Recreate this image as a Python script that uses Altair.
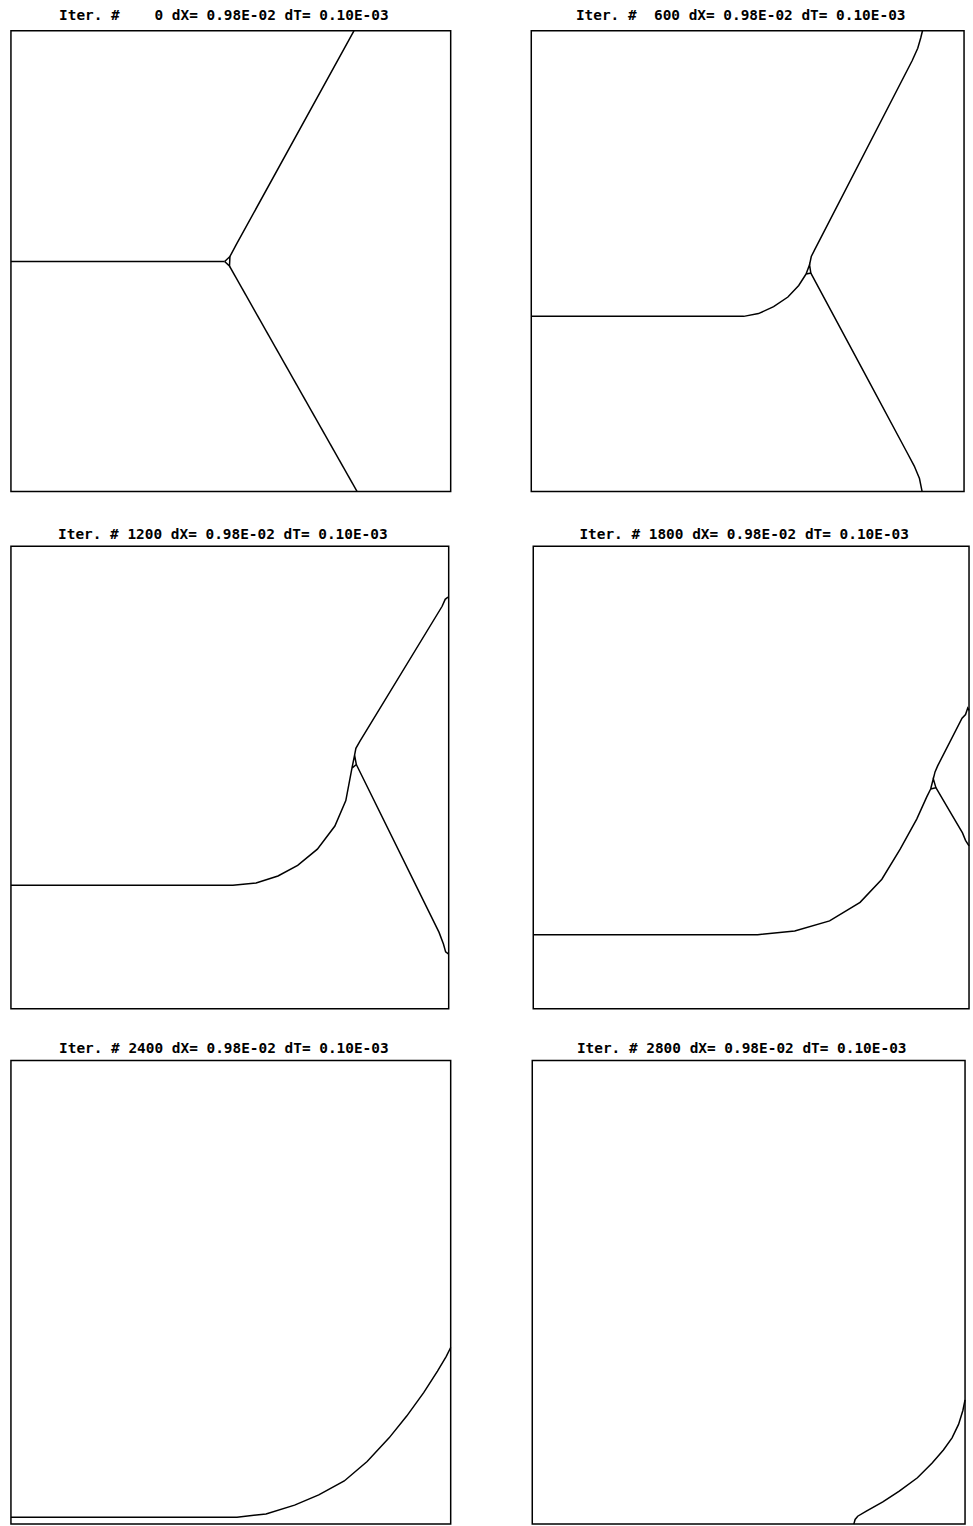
import altair as alt
import pandas as pd

# Snapshot labels
ITERATIONS = [0, 600, 1200, 1800, 2400, 2800]
DX_LABEL = "0.98E-02"
DT_LABEL = "0.10E-03"

# Grain-boundary traces, unit-box coordinates (x to the right, y upward)
# Iter 0: symmetric triple junction
it0_left_x = [0.0, 0.486]
it0_left_y = [0.499, 0.499]
it0_node_x = [0.486, 0.498, 0.497, 0.486]
it0_node_y = [0.499, 0.510, 0.489, 0.499]
it0_upper_x = [0.498, 0.512, 0.780]
it0_upper_y = [0.510, 0.535, 1.0]
it0_lower_x = [0.497, 0.787]
it0_lower_y = [0.489, 0.0]

# Iter 600
it600_left_x = [0.0, 0.491, 0.525, 0.560, 0.593, 0.618, 0.635]
it600_left_y = [0.380, 0.380, 0.386, 0.401, 0.422, 0.447, 0.472]
it600_node_x = [0.635, 0.643, 0.646, 0.635]
it600_node_y = [0.472, 0.492, 0.474, 0.472]
it600_upper_x = [0.643, 0.647, 0.655, 0.880, 0.893, 0.900, 0.904]
it600_upper_y = [0.492, 0.510, 0.525, 0.935, 0.962, 0.985, 1.0]
it600_lower_x = [0.646, 0.775, 0.868, 0.885, 0.897, 0.903]
it600_lower_y = [0.474, 0.248, 0.085, 0.055, 0.028, 0.0]

# Iter 1200
it1200_left_x = [0.0, 0.507, 0.560, 0.610, 0.655, 0.700, 0.740, 0.765, 0.779]
it1200_left_y = [0.267, 0.267, 0.272, 0.287, 0.310, 0.345, 0.395, 0.450, 0.520]
it1200_node_x = [0.779, 0.785, 0.789, 0.779]
it1200_node_y = [0.520, 0.548, 0.528, 0.520]
it1200_upper_x = [0.785, 0.788, 0.797, 0.985, 0.992, 0.996, 1.0]
it1200_upper_y = [0.548, 0.563, 0.578, 0.870, 0.885, 0.888, 0.890]
it1200_lower_x = [0.789, 0.978, 0.988, 0.993, 1.0]
it1200_lower_y = [0.528, 0.165, 0.140, 0.123, 0.118]

# Iter 1800
it1800_left_x = [0.0, 0.515, 0.600, 0.680, 0.750, 0.800, 0.842, 0.880, 0.903, 0.912]
it1800_left_y = [0.160, 0.160, 0.168, 0.190, 0.230, 0.280, 0.345, 0.410, 0.458, 0.475]
it1800_node_x = [0.912, 0.918, 0.924, 0.912]
it1800_node_y = [0.475, 0.497, 0.478, 0.475]
it1800_upper_x = [0.918, 0.922, 0.928, 0.984, 0.992, 0.997, 1.0]
it1800_upper_y = [0.497, 0.512, 0.525, 0.628, 0.636, 0.650, 0.645]
it1800_lower_x = [0.924, 0.960, 0.985, 0.992, 1.0]
it1800_lower_y = [0.478, 0.420, 0.380, 0.364, 0.352]

# Iter 2400
it2400_left_x = [0.0, 0.514, 0.580, 0.645, 0.700, 0.758, 0.810, 0.860, 0.900, 0.939, 0.970, 0.990, 1.0]
it2400_left_y = [0.015, 0.015, 0.022, 0.041, 0.063, 0.093, 0.135, 0.186, 0.233, 0.284, 0.330, 0.362, 0.381]

# Iter 2800
it2800_left_x = [0.743, 0.746, 0.752, 0.772, 0.810, 0.848, 0.890, 0.924, 0.950, 0.970, 0.985, 0.995, 1.0]
it2800_left_y = [0.0, 0.010, 0.017, 0.028, 0.048, 0.071, 0.100, 0.132, 0.160, 0.186, 0.215, 0.245, 0.268]

SNAPSHOTS = [
    [(it0_left_x, it0_left_y), (it0_node_x, it0_node_y),
     (it0_upper_x, it0_upper_y), (it0_lower_x, it0_lower_y)],
    [(it600_left_x, it600_left_y), (it600_node_x, it600_node_y),
     (it600_upper_x, it600_upper_y), (it600_lower_x, it600_lower_y)],
    [(it1200_left_x, it1200_left_y), (it1200_node_x, it1200_node_y),
     (it1200_upper_x, it1200_upper_y), (it1200_lower_x, it1200_lower_y)],
    [(it1800_left_x, it1800_left_y), (it1800_node_x, it1800_node_y),
     (it1800_upper_x, it1800_upper_y), (it1800_lower_x, it1800_lower_y)],
    [(it2400_left_x, it2400_left_y)],
    [(it2800_left_x, it2800_left_y)],
]

# Panel sizes (plot area in px)
PANEL_SIZES = [(442, 463), (435, 463), (440, 465), (438, 465), (442, 466), (435, 466)]


def snapshot_frame(segments):
    rows = []
    for s, (xs, ys) in enumerate(segments):
        for i, (x, y) in enumerate(zip(xs, ys)):
            rows.append({"seg": s, "i": i, "x": x, "y": y})
    return pd.DataFrame(rows)


def panel(k):
    it = ITERATIONS[k]
    w, h = PANEL_SIZES[k]
    label = f"Iter. # {it:4d} dX= {DX_LABEL} dT= {DT_LABEL}".replace(" ", "\u00a0")
    return (
        alt.Chart(snapshot_frame(SNAPSHOTS[k]))
        .mark_line(color="black", strokeWidth=1.5, interpolate="linear")
        .encode(
            x=alt.X("x:Q", scale=alt.Scale(domain=[0, 1], nice=False, zero=False), axis=None),
            y=alt.Y("y:Q", scale=alt.Scale(domain=[0, 1], nice=False, zero=False), axis=None),
            detail="seg:N",
            order="i:Q",
        )
        .properties(
            width=w,
            height=h,
            title=alt.TitleParams(
                label,
                font="DejaVu Sans Mono",
                fontSize=14.5,
                fontWeight="bold",
                color="black",
                anchor="middle",
                offset=4,
                dx=-7,
            ),
        )
    )


rows = [
    alt.hconcat(panel(0), panel(1), spacing=76),
    alt.hconcat(panel(2), panel(3), spacing=77),
    alt.hconcat(panel(4), panel(5), spacing=77),
]

chart = (
    alt.vconcat(*rows, spacing=30)
    .properties(padding={"left": 7, "top": 3, "right": 0, "bottom": 0}, background="white")
    .configure_view(stroke="black", strokeWidth=1.5)
)

chart.save("out.html", embed_options={"renderer": "svg", "actions": False})
